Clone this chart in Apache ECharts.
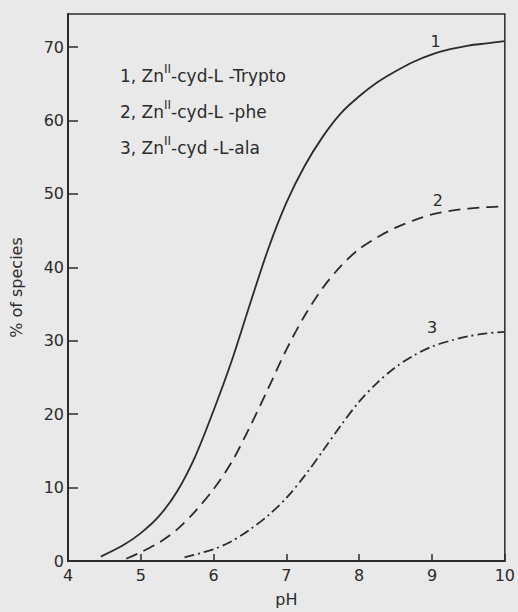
<!DOCTYPE html>
<html>
<head>
<meta charset="utf-8">
<script src="https://cdn.jsdelivr.net/npm/echarts@6/dist/echarts.min.js"></script>
<style>
html,body{margin:0;padding:0;background:#e9e9e9;}
#c{width:518px;height:612px;}
</style>
</head>
<body>
<div id="c"></div>
<script>
// pH values and % of species for each curve
const pH1 = [4.45, 4.75, 5.0, 5.25, 5.5, 5.75, 6.0, 6.25, 6.5, 6.75, 7.0, 7.25, 7.5, 7.75, 8.0, 8.25, 8.5, 8.75, 9.0, 9.25, 9.5, 9.75, 10.0];
const trypto = [0.6, 2.1, 3.8, 6.1, 9.5, 14.3, 20.5, 27.3, 35.0, 42.5, 48.8, 53.8, 57.8, 61.0, 63.3, 65.2, 66.7, 68.0, 69.0, 69.7, 70.2, 70.5, 70.8];

const pH2 = [4.8, 5.0, 5.25, 5.5, 5.75, 6.0, 6.25, 6.5, 6.75, 7.0, 7.25, 7.5, 7.75, 8.0, 8.25, 8.5, 8.75, 9.0, 9.25, 9.5, 9.75, 10.0];
const phe = [0.3, 1.2, 2.5, 4.3, 6.8, 9.8, 13.5, 18.3, 23.5, 28.8, 33.4, 37.2, 40.2, 42.5, 44.1, 45.4, 46.4, 47.2, 47.7, 48.0, 48.2, 48.3];

const pH3 = [5.6, 6.0, 6.25, 6.5, 6.75, 7.0, 7.25, 7.5, 7.75, 8.0, 8.25, 8.5, 8.75, 9.0, 9.25, 9.5, 9.75, 10.0];
const ala = [0.5, 1.6, 2.7, 4.3, 6.2, 8.6, 11.6, 15.0, 18.5, 21.7, 24.3, 26.4, 28.0, 29.2, 30.0, 30.6, 31.0, 31.2];

// curve number labels: [text, pH, value]
const curveLabels = [['1', 9.05, 68.5], ['2', 9.08, 46.8], ['3', 9.0, 29.6]];

const xTicks = [4, 5, 6, 7, 8, 9, 10];
const yTicks = [0, 10, 20, 30, 40, 50, 60, 70];

const legendLines = [
  ['1, Zn', 'II', '-cyd-L -Trypto'],
  ['2, Zn', 'II', '-cyd-L -phe'],
  ['3, Zn', 'II', '-cyd -L-ala']
];

const ink = '#2b2b2b';
const font = 'DejaVu Sans';

function pairs(xs, ys) { return xs.map((x, i) => [x, ys[i]]); }

function mk(lbl) {
  return {
    symbol: 'circle', symbolSize: 1,
    itemStyle: { color: 'rgba(0,0,0,0)' },
    silent: true,
    data: [{ coord: [lbl[1], lbl[2]], value: lbl[0] }],
    label: { show: true, formatter: lbl[0], position: 'top', distance: 8, color: ink, fontSize: 16, fontFamily: font }
  };
}

const chart = echarts.init(document.getElementById('c'), null, { renderer: 'svg' });
chart.setOption({
  backgroundColor: '#e9e9e9',
  animation: false,
  grid: { left: 66, right: 5, top: 14, bottom: 50, show: true, borderColor: ink, borderWidth: 1.5, backgroundColor: 'transparent' },
  xAxis: {
    type: 'value', min: 4, max: 10, interval: 1,
    name: 'pH', nameLocation: 'middle', nameGap: 30,
    nameTextStyle: { color: ink, fontSize: 16, fontFamily: font },
    axisLine: { lineStyle: { color: ink, width: 2 } },
    axisTick: { inside: true, length: 7, lineStyle: { color: ink, width: 1.5 } },
    axisLabel: { color: ink, fontSize: 16, fontFamily: font, margin: 6,
      formatter: v => (xTicks.indexOf(v) >= 0 ? String(v) : '') },
    splitLine: { show: false }
  },
  yAxis: {
    type: 'value', min: 0, max: 74.5, interval: 10,
    name: '% of species', nameLocation: 'middle', nameGap: 44, nameRotate: 90,
    nameTextStyle: { color: ink, fontSize: 16, fontFamily: font },
    axisLine: { lineStyle: { color: ink, width: 2 } },
    axisTick: { inside: true, length: 10, lineStyle: { color: ink, width: 1.5 } },
    axisLabel: { color: ink, fontSize: 16, fontFamily: font, margin: 4, showMaxLabel: false,
      formatter: v => (yTicks.indexOf(v) >= 0 ? String(v) : '') },
    splitLine: { show: false }
  },
  series: [
    { type: 'line', data: pairs(pH1, trypto), smooth: 0.3, showSymbol: false,
      lineStyle: { color: ink, width: 1.8, type: 'solid' }, markPoint: mk(curveLabels[0]) },
    { type: 'line', data: pairs(pH2, phe), smooth: 0.3, showSymbol: false,
      lineStyle: { color: ink, width: 1.8, type: [12, 7] }, markPoint: mk(curveLabels[1]) },
    { type: 'line', data: pairs(pH3, ala), smooth: 0.3, showSymbol: false,
      lineStyle: { color: ink, width: 1.8, type: [10, 4, 2, 4] }, markPoint: mk(curveLabels[2]) }
  ],
  graphic: legendLines.map((l, i) => ({
    type: 'text', left: 120, top: 63 + i * 36, silent: true,
    style: {
      text: '{n|' + l[0] + '}{s|' + l[1] + '}{n|' + l[2] + '}',
      rich: {
        n: { fontSize: 17, fontFamily: font, fill: ink, color: ink },
        s: { fontSize: 12, fontFamily: font, fill: ink, color: ink, padding: [0, 0, 13, 0] }
      }
    }
  }))
});
</script>
</body>
</html>
